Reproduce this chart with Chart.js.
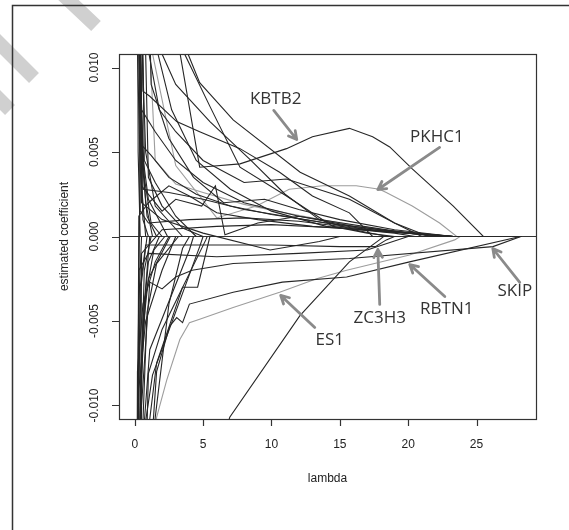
<!DOCTYPE html>
<html>
<head>
<meta charset="utf-8">
<script src="https://cdn.jsdelivr.net/npm/chart.js@4.4.1/dist/chart.umd.min.js"></script>
<style>
html,body{margin:0;padding:0;background:#fff;}
canvas{display:block;}
</style>
</head>
<body>
<canvas id="c" width="569" height="530"></canvas>
<script>
// ---- axis ticks ----
const xTicks = [0, 5, 10, 15, 20, 25];
const xTickLabels = ['0', '5', '10', '15', '20', '25'];
const yTicks = [-0.01, -0.005, 0, 0.005, 0.01];
const yTickLabels = ['-0.010', '-0.005', '0.000', '0.005', '0.010'];
const xTitle = 'lambda';
const yTitle = 'estimated coefficient';

// ---- labelled coefficient paths: [lambda, coefficient] ----
const KBTB2 = [[0,0.05],[2,0.017],[4.75,0.0041],[7.7,0.0043],[11.1,0.0052],[13,0.0059],[15.7,0.0064],[17.4,0.0059],[18.65,0.0053],[20.3,0.0040],[23.3,0.0018],[25.5,0],[28.3,0]];
const PKHC1 = [[0,0.04],[1,0.012],[3,0.0042],[6,0.0011],[8.9,0.0018],[11.3,0.0028],[13.75,0.0030],[16.2,0.0030],[17.9,0.0028],[18.4,0.0026],[20.3,0.0018],[22.3,0.0008],[23.55,0],[28.3,0]];
const ZC3H3 = [[0,-0.03],[0.4,-0.003],[0.8,-0.0005],[10,-0.0005],[15,-0.0006],[17.6,-0.0006],[18.4,-0.0002],[19,0],[28.3,0]];
const RBTN1 = [[0,-0.06],[0.6,-0.02],[1.6,-0.008],[2.56,-0.0053],[3.07,-0.0048],[3.5,-0.0051],[4.0,-0.0040],[7.2,-0.0033],[10.8,-0.0027],[15.5,-0.0024],[20.1,-0.0015],[28.2,0]];
const SKIP  = [[0,-0.04],[0.5,-0.01],[1.1,-0.0027],[2.0,-0.0031],[3.0,-0.0024],[4.2,-0.0020],[7.2,-0.0016],[15.7,-0.0013],[26.2,-0.0006],[28.25,0]];
const ES1   = [[0,-0.05],[1.0,-0.02],[1.6,-0.0107],[2.34,-0.0085],[3.3,-0.0061],[4.0,-0.0051],[4.75,-0.0049],[7.2,-0.0042],[10.6,-0.0033],[13.3,-0.0025],[15.5,-0.0020],[20.1,-0.0011],[23.4,-0.0002],[23.8,0],[28.3,0]];

// ---- other coefficient paths ----
const p07 = [[0,-0.08],[5,-0.016],[6.95,-0.0107],[12.07,-0.0047],[15.7,-0.0015],[17.9,-0.0002],[18.2,0],[28.3,0]];
const p08 = [[0,0.05],[0.6,0.0086],[1.1,0.0083],[3.07,0.0068],[4.75,0.0062],[7.7,0.0052],[10.6,0.0038],[13.0,0.0024],[15.7,0.0014],[17.4,0],[28.3,0]];
const p09 = [[0,0.06],[0.5,0.02],[1.0,0.011],[1.8,0.0075],[3,0.0062],[5,0.0045],[8,0.0032],[11.1,0.0034],[15.7,0.0022],[19,0.0008],[21,0]];
const p10 = [[0,0.07],[1.7,0.0108],[2.7,0.0075],[4.5,0.0045],[7,0.0028],[10,0.0015],[14,0.0006],[19,0.0002],[20.5,0]];
const p11 = [[0,0.08],[1.2,0.02],[2.0,0.0108],[3.0,0.009],[5.5,0.0068],[8.5,0.0045],[11,0.0025],[13.5,0.001],[16,0.0004],[18.5,0]];
const p12 = [[0,0.1],[2.5,0.02],[3.65,0.0108],[5.5,0.0077],[7.7,0.0041],[11.1,0.0024],[14.5,0.0006],[17,0.0002],[19,0]];
const p13 = [[0,0.1],[3,0.02],[3.9,0.0108],[4.75,0.0091],[7.2,0.0069],[12.1,0.0038],[15.7,0.0024],[19,0.0008],[21.5,0]];
const p14 = [[0,0.04],[0.5,0.0075],[1.5,0.0062],[3,0.0045],[5,0.0032],[8,0.002],[12,0.0012],[16,0.0006],[20,0.0002],[22,0]];
const p15 = [[0,-0.03],[0.4,0.0055],[1.2,0.0048],[2.5,0.0035],[4.5,0.0025],[7,0.0018],[10,0.0013],[14,0.0008],[18,0.0003],[23.3,0]];
const p16 = [[0,0.05],[0.5,0.003],[2,0.0015],[3,0.0022],[4.9,0.0018],[5.9,0.0030],[6.6,0.0001],[9,0.0008],[12,0.0012],[16,0.0007],[20,0.0002],[23.3,0]];
const p17 = [[0,0.03],[0.6,0.0028],[2.5,0.0026],[5,0.0022],[8,0.0016],[11,0.0012],[14,0.0008],[18,0.0004],[23.3,0]];
const p18 = [[0,-0.05],[0.3,0.0012],[1,0.0020],[2.5,0.0030],[4,0.0024],[6,0.0014],[9,0.0010],[13,0.0006],[22,0.0001],[23.3,0]];
const p19 = [[0,0.06],[0.4,0.0015],[1,0.0008],[4,0.0010],[8,0.0011],[12,0.0009],[16,0.0005],[20,0.0002],[23.3,0]];
const p20 = [[0,-0.07],[0.5,-0.001],[2,0.0004],[6,0.0006],[10,0.0007],[15,0.0005],[20,0.0002],[23.3,0]];
const p21 = [[0,0.03],[0.5,0.0020],[2,0.0010],[5,0.0002],[9.9,-0.0008],[13.5,-0.0003],[15,0]];
const p22 = [[0,0.04],[1,0.0035],[2,0.0018],[3.5,0.0005],[5,0]];
const p23 = [[0,0.05],[0.7,0.0045],[1.5,0.0032],[3,0.0012],[4.5,0]];
const p24 = [[0,-0.04],[0.3,-0.002],[1,-0.001],[6,-0.0012],[12,-0.0010],[17,-0.0008],[20,0]];
const p25 = [[0,0.05],[1.2,0.009],[2.5,0.0058],[4.3,0.0035],[6.5,0.002],[9.5,0.0022],[12,0.0016],[15,0.0010],[19,0.0004],[23.3,0]];
const p26 = [[0,0.03],[1.5,0.0045],[3,0.0031],[5,0.0026],[8,0.0019],[11,0.0014],[15,0.0008],[19,0.0003],[22.5,0]];
const p27 = [[0,-0.05],[0.6,-0.012],[1.3,-0.0082],[4.75,-0.0006],[5,0]];
const p28 = [[0,-0.06],[0.7,-0.011],[1.1,-0.0067],[4.0,-0.0008],[4.3,0]];
const p29 = [[0,-0.04],[1.0,-0.0081],[2.0,-0.0055],[5.2,-0.0002],[5.3,0]];
const p30 = [[0,-0.08],[0.8,-0.02],[1.5,-0.0107],[2.5,-0.004],[3.5,-0.0007],[4,0]];
const p31 = [[0,-0.03],[0.3,-0.009],[0.8,-0.005],[2,-0.002],[3,0]];
const p32 = [[0,-0.05],[0.2,-0.008],[0.6,-0.004],[1.5,-0.0015],[2.5,0]];
const p33 = [[0,-0.06],[1.1,-0.0108],[1.6,-0.0075],[3.5,-0.003],[4.6,-0.003],[5.5,0]];
const p34 = [[0,0.08],[0.25,0.005],[0.4,0]];
const p35 = [[0,-0.08],[0.3,-0.004],[0.5,0]];
const p36 = [[0,0.1],[0.35,0.009],[0.6,0.001],[1,0]];
const p37 = [[0,-0.1],[0.35,-0.012],[0.7,-0.002],[1.2,0]];
const p38 = [[0,0.02],[0.2,0.011],[0.4,0.004],[0.8,0]];
const p39 = [[0,-0.02],[0.25,-0.01],[0.45,-0.003],[0.9,0]];
const p40 = [[0,0.06],[0.15,0.02],[0.3,0.0108],[0.5,0.006],[0.8,0.002],[1.3,0]];
const p41 = [[0,-0.06],[0.2,-0.02],[0.45,-0.009],[0.7,-0.004],[1.1,0]];
const p42 = [[0,0.12],[0.3,0.02],[0.45,0.0095],[0.6,0.004],[0.9,0.0012],[1.6,0]];
const p43 = [[0,-0.12],[0.3,-0.02],[0.45,-0.0095],[0.6,-0.005],[1.0,-0.0015],[1.8,0]];
const p44 = [[0,0.09],[0.2,0.03],[0.35,0.014],[0.5,0.0075],[0.7,0.0035],[1.2,0.0008],[2,0]];
const p45 = [[0,-0.09],[0.2,-0.03],[0.38,-0.013],[0.55,-0.0075],[0.8,-0.0035],[1.4,-0.0008],[2.2,0]];
const p46 = [[0,0.05],[0.1,0.03],[0.25,0.015],[0.4,0.0085],[0.55,0.005],[1.0,0.0022],[2.4,0]];
const p47 = [[0,-0.05],[0.1,-0.03],[0.25,-0.016],[0.42,-0.009],[0.6,-0.0055],[1.0,-0.0025],[2.6,0]];
const p48 = [[0,0.2],[0.4,0.03],[0.55,0.011],[0.8,0.005],[1.5,0.0018],[3.5,0]];
const p49 = [[0,-0.2],[0.4,-0.03],[0.6,-0.011],[0.9,-0.0045],[1.6,-0.0016],[3.2,0]];
const zeroLine = [[-2,0],[31,0]];

// which paths are drawn in grey
const DARK = '#262626', GREY = '#9d9d9d';
const paths = [
  [p07,DARK],[p08,DARK],[p09,DARK],[p10,DARK],[p11,DARK],[p12,DARK],[p13,DARK],[p14,DARK],
  [p15,DARK],[p16,DARK],[p17,DARK],[p18,DARK],[p19,DARK],[p20,DARK],[p21,DARK],[p22,DARK],
  [p23,DARK],[p24,DARK],[p25,DARK],[p26,GREY],[p27,DARK],[p28,DARK],[p29,DARK],[p30,DARK],
  [p31,DARK],[p32,DARK],[p33,DARK],[p34,DARK],[p35,DARK],[p36,DARK],[p37,DARK],[p38,DARK],
  [p39,DARK],[p40,DARK],[p41,DARK],[p42,DARK],[p43,DARK],[p44,DARK],[p45,DARK],[p46,DARK],
  [p47,DARK],[p48,DARK],[p49,DARK],
  [KBTB2,DARK],[ZC3H3,DARK],[RBTN1,DARK],[SKIP,DARK],[PKHC1,GREY],[ES1,GREY],[zeroLine,'#333']
];

// annotations: label position and arrow in data units
const annLabels = ['KBTB2','PKHC1','ZC3H3','RBTN1','SKIP','ES1'];
const annText  = [[10.31,0.0081],[22.1,0.0059],[17.92,-0.00485],[22.82,-0.00432],[27.8,-0.00325],[14.26,-0.00615]];
const annFrom  = [[10.17,0.00746],[22.3,0.00527],[17.92,-0.00402],[22.68,-0.00355],[28.16,-0.00272],[13.17,-0.00538]];
const annTo    = [[11.85,0.00574],[17.78,0.00278],[17.78,-0.00077],[20.12,-0.00166],[26.19,-0.00071],[10.68,-0.00349]];

const datasets = paths.map(([pts,col]) => ({
  data: pts.map(([x,y]) => ({x, y})),
  borderColor: col,
  borderWidth: 1.1,
  pointRadius: 0,
  fill: false,
  tension: 0
}));

function drawArrow(ctx, x1, y1, x2, y2) {
  const a = Math.atan2(y2 - y1, x2 - x1);
  ctx.save();
  ctx.strokeStyle = '#8a8a8a';
  ctx.lineWidth = 2.8;
  ctx.lineCap = 'round';
  ctx.lineJoin = 'round';
  ctx.beginPath();
  ctx.moveTo(x1, y1); ctx.lineTo(x2, y2);
  const h = 9;
  ctx.moveTo(x2 - h*Math.cos(a - 0.5), y2 - h*Math.sin(a - 0.5));
  ctx.lineTo(x2, y2);
  ctx.lineTo(x2 - h*Math.cos(a + 0.5), y2 - h*Math.sin(a + 0.5));
  ctx.stroke();
  ctx.restore();
}

const decor = {
  id: 'decor',
  beforeDraw(chart) {
    const ctx = chart.ctx;
    ctx.save();
    ctx.fillStyle = '#fff';
    ctx.fillRect(0, 0, chart.width, chart.height);
    // faint watermark stripes
    ctx.strokeStyle = '#d0d0d0';
    ctx.lineWidth = 14;
    ctx.beginPath();
    ctx.moveTo(60, -8); ctx.lineTo(96, 26);
    ctx.moveTo(-6, 38); ctx.lineTo(34, 78);
    ctx.moveTo(-6, 94); ctx.lineTo(10, 110);
    ctx.stroke();
    // outer frame
    ctx.strokeStyle = '#333';
    ctx.lineWidth = 1.5;
    ctx.strokeRect(12.5, 5.5, 600, 600);
    ctx.restore();
  },
  afterDatasetsDraw(chart) {
    const ctx = chart.ctx;
    const xs = chart.scales.x, ys = chart.scales.y, a = chart.chartArea;
    ctx.save();
    // plot box
    ctx.strokeStyle = '#333';
    ctx.lineWidth = 1.2;
    ctx.strokeRect(a.left + 0.5, a.top + 0.5, a.right - a.left, a.bottom - a.top);
    // ticks
    ctx.beginPath();
    xTicks.forEach(v => { const px = Math.round(xs.getPixelForValue(v)) + 0.5; ctx.moveTo(px, a.bottom); ctx.lineTo(px, a.bottom + 7); });
    yTicks.forEach(v => { const py = Math.round(ys.getPixelForValue(v)) + 0.5; ctx.moveTo(a.left, py); ctx.lineTo(a.left - 7, py); });
    ctx.stroke();
    ctx.fillStyle = '#222';
    ctx.font = '12px "Liberation Sans", Arial, sans-serif';
    ctx.textAlign = 'center';
    ctx.textBaseline = 'middle';
    xTicks.forEach((v, i) => ctx.fillText(xTickLabels[i], xs.getPixelForValue(v), 445));
    ctx.fillText(xTitle, (a.left + a.right) / 2, 479);
    yTicks.forEach((v, i) => {
      ctx.save();
      ctx.translate(95, ys.getPixelForValue(v));
      ctx.rotate(-Math.PI / 2);
      ctx.fillText(yTickLabels[i], 0, 0);
      ctx.restore();
    });
    ctx.save();
    ctx.translate(65, (a.top + a.bottom) / 2);
    ctx.rotate(-Math.PI / 2);
    ctx.fillText(yTitle, 0, 0);
    ctx.restore();
    // annotations
    annLabels.forEach((t, i) => {
      drawArrow(ctx, xs.getPixelForValue(annFrom[i][0]), ys.getPixelForValue(annFrom[i][1]),
                     xs.getPixelForValue(annTo[i][0]), ys.getPixelForValue(annTo[i][1]));
    });
    ctx.fillStyle = '#333';
    ctx.font = '17px "Open Sans", "Liberation Sans", sans-serif';
    annLabels.forEach((t, i) => {
      ctx.fillText(t, xs.getPixelForValue(annText[i][0]), ys.getPixelForValue(annText[i][1]));
    });
    ctx.restore();
  }
};

new Chart(document.getElementById('c'), {
  type: 'line',
  data: { datasets },
  options: {
    responsive: false,
    animation: false,
    events: [],
    plugins: { legend: { display: false }, tooltip: { enabled: false } },
    layout: { padding: { left: 0, top: 54, right: 33, bottom: 0 } },
    scales: {
      x: {
        type: 'linear', min: -1.15, max: 29.35,
        grid: { display: false }, border: { display: false },
        ticks: { display: false },
        afterFit(s) { s.height = 111; }
      },
      y: {
        type: 'linear', min: -0.0108, max: 0.0108,
        grid: { display: false }, border: { display: false },
        ticks: { display: false },
        afterFit(s) { s.width = 119; }
      }
    }
  },
  plugins: [decor]
});
</script>
</body>
</html>
